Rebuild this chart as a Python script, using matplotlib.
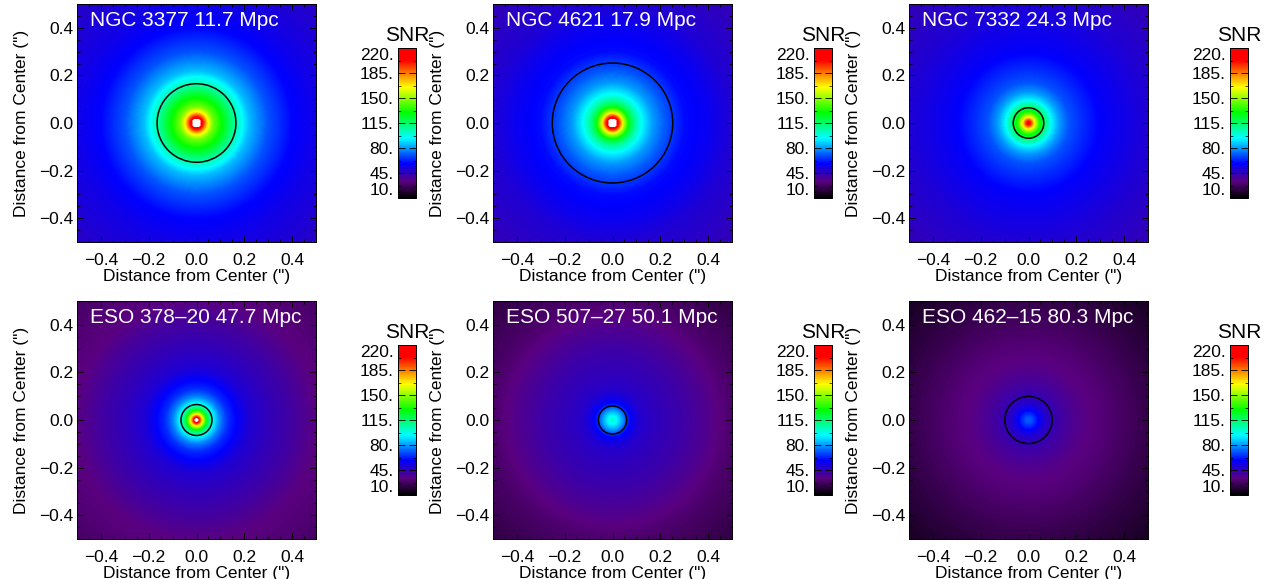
import numpy as np
import matplotlib
matplotlib.use('Agg')
import matplotlib.pyplot as plt
from matplotlib.colors import LinearSegmentedColormap
from matplotlib.patches import Circle
from matplotlib.ticker import MultipleLocator, FixedLocator

plt.rcParams['font.family'] = ['Liberation Sans', 'DejaVu Sans']

names = ['NGC 3377 11.7 Mpc', 'NGC 4621 17.9 Mpc', 'NGC 7332 24.3 Mpc',
         'ESO 378\u201320 47.7 Mpc', 'ESO 507\u201327 50.1 Mpc', 'ESO 462\u201315 80.3 Mpc']
circle_radius = [0.165, 0.252, 0.064, 0.065, 0.059, 0.099]

# radial SNR profiles
radius = [0, 0.012, 0.025, 0.045, 0.07, 0.10, 0.13, 0.17, 0.22, 0.30, 0.40, 0.50, 0.72]
snr_profiles = [
    [300, 235, 205, 170, 145, 132, 120, 103, 85, 70, 59, 54, 47],
    [300, 235, 205, 160, 125, 105, 92, 80, 71, 60, 56, 50, 44],
    [212, 195, 165, 135, 112, 92, 80, 70, 65, 58, 54, 50, 44],
    [260, 205, 165, 122, 94, 76, 65, 58, 50, 45, 40, 34, 28],
    [100, 97, 90, 78, 60, 52, 48, 46, 44, 41, 36, 30, 22],
    [72, 70, 65, 57, 49, 44, 41, 38, 35, 32, 28, 24, 16],
]

cbar_ticks = [10, 45, 80, 115, 150, 185, 220]
cbar_labels = ['10.', '45.', '80.', '115.', '150.', '185.', '220.']
axis_ticks = [-0.4, -0.2, 0.0, 0.2, 0.4]

cmap = LinearSegmentedColormap.from_list('snr', [
    (0.0, '#000000'), (0.11, '#5a0080'), (0.23, '#0000ff'), (0.40, '#00ffff'),
    (0.57, '#00ff00'), (0.74, '#ffff00'), (0.92, '#ff0000'), (1.0, '#ff0000')], N=256)
cmap.set_over('white')

W, H = 1268, 579
fig = plt.figure(figsize=(W / 100, H / 100), dpi=100)


def pix_axes(x0, y0, x1, y1):
    return fig.add_axes([x0 / W, 1 - y1 / H, (x1 - x0) / W, (y1 - y0) / H])


grid = np.linspace(-0.5, 0.5, 240)
xx, yy = np.meshgrid(grid, grid)
rr = np.hypot(xx, yy)

col_x = [77, 493, 909]
row_y = [4, 301]

for i, name in enumerate(names):
    x0 = col_x[i % 3]
    y0 = row_y[i // 3]
    ax = pix_axes(x0, y0, x0 + 239, y0 + 238)
    img = np.interp(rr, radius, snr_profiles[i])
    im = ax.imshow(img, origin='lower', extent=[-0.5, 0.5, -0.5, 0.5], cmap=cmap,
                   vmin=10, vmax=220, interpolation='bilinear', aspect='auto')
    ax.add_patch(Circle((0, 0), circle_radius[i], fill=False, ec='black', lw=1.1))
    ax.set_xlim(-0.5, 0.5)
    ax.set_ylim(-0.5, 0.5)
    ax.set_xticks(axis_ticks)
    ax.set_yticks(axis_ticks)
    ax.xaxis.set_minor_locator(MultipleLocator(0.05))
    ax.yaxis.set_minor_locator(MultipleLocator(0.05))
    ax.tick_params(which='major', direction='in', length=4.5, width=0.7, top=True, right=True,
                   labelsize=12.5)
    ax.tick_params(which='minor', direction='in', length=2.2, width=0.6, top=True, right=True)
    ax.tick_params(axis='x', which='major', pad=8)
    ax.tick_params(axis='y', which='major', pad=2.5)
    for s in ax.spines.values():
        s.set_linewidth(0.7)
    ax.set_xlabel('Distance from Center (")', fontsize=12.5, labelpad=0.5)
    ax.set_ylabel('Distance from Center (")', fontsize=12.5, labelpad=7.5)
    ax.text(13 / 239, 0.93, name, transform=ax.transAxes, color='white', fontsize=15,
            ha='left', va='center')

    cax = pix_axes(x0 + 321, y0 + 44, x0 + 339, y0 + 194)
    cb = fig.colorbar(im, cax=cax)
    cb.outline.set_linewidth(0.7)
    cax.yaxis.set_ticks_position('both')
    cb.set_ticks(cbar_ticks)
    cb.set_ticklabels(cbar_labels)
    cax.yaxis.set_minor_locator(FixedLocator(np.arange(10, 221, 17.5)))
    cax.tick_params(which='major', direction='in', length=5, width=0.6, left=True, right=True,
                    labelleft=True, labelright=False, labelsize=12.5, pad=3, color='black')
    cax.tick_params(which='minor', direction='in', length=2, width=0.5, left=True, right=True)
    labels = cax.get_yticklabels()
    labels[0].set_va('bottom')
    labels[-1].set_va('top')
    cax.set_title('SNR', fontsize=15, pad=5)

fig.savefig('out.png', dpi=100)
